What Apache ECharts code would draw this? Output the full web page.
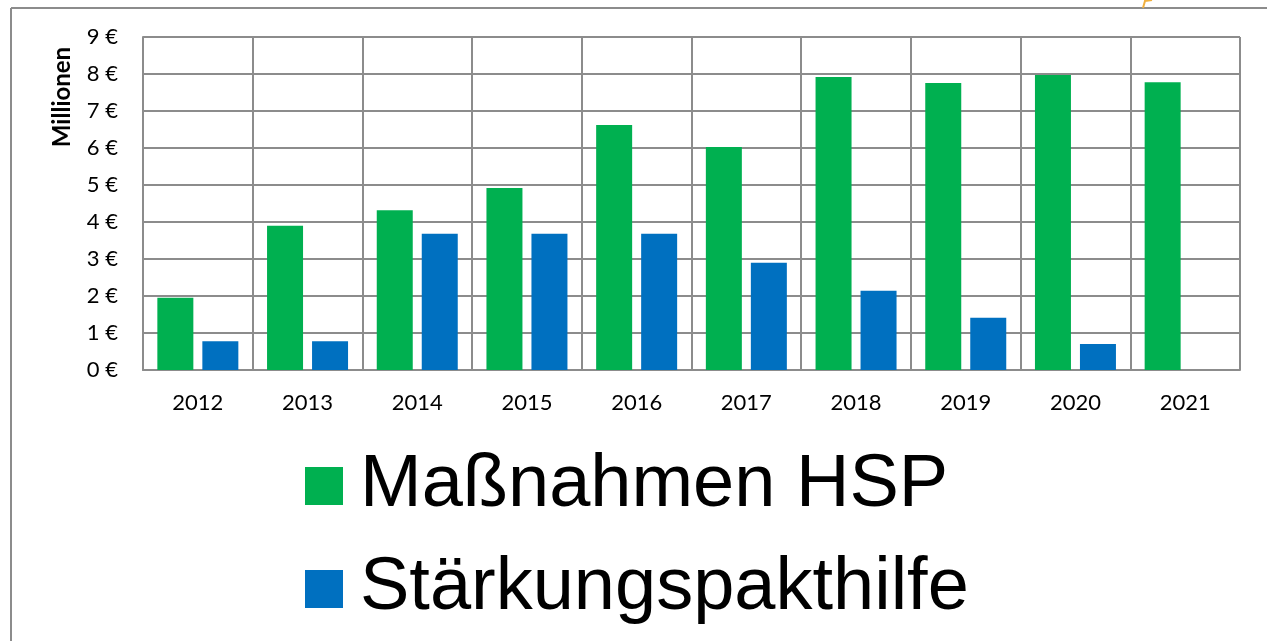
<!DOCTYPE html>
<html>
<head>
<meta charset="utf-8">
<script src="https://cdn.jsdelivr.net/npm/echarts@6/dist/echarts.min.js"></script>
<style>
  html, body { margin: 0; padding: 0; background: #fff; }
  #chart { width: 1267px; height: 641px; }
</style>
</head>
<body>
<div id="chart"></div>
<script>
// Daten (Millionen €)
const years = ['2012', '2013', '2014', '2015', '2016', '2017', '2018', '2019', '2020', '2021'];
const hsp = [1.95, 3.9, 4.32, 4.92, 6.62, 6.03, 7.92, 7.76, 7.97, 7.78];
const staerkung = [0.78, 0.78, 3.68, 3.68, 3.68, 2.9, 2.14, 1.41, 0.7, null];

const chart = echarts.init(document.getElementById('chart'));
const gridColor = '#8c8c8c';

const option = {
  animation: false,
  textStyle: { fontFamily: 'Lato, "Open Sans", sans-serif' },
  graphic: [
    // Rahmen oben/links
    { type: 'line', shape: { x1: 11, y1: 8, x2: 1267, y2: 8 }, style: { stroke: '#8c8c8c', lineWidth: 2 } },
    { type: 'line', shape: { x1: 11, y1: 8, x2: 11, y2: 641 }, style: { stroke: '#8c8c8c', lineWidth: 2 } },
    { type: 'polyline', shape: { points: [[1143, 8], [1145, 1], [1152, 0]] }, style: { stroke: '#f0b040', lineWidth: 2, fill: null } },
    {
      type: 'text', x: 62, y: 97, rotation: Math.PI / 2,
      style: { text: 'Millionen', fontSize: 24, fontWeight: 'bold', fill: '#000',
        fontFamily: 'Lato, "Open Sans", sans-serif', align: 'center', verticalAlign: 'middle' }
    }
  ],
  legend: {
    orient: 'vertical',
    left: 300,
    top: 444,
    itemWidth: 38,
    itemHeight: 38,
    itemGap: 29,
    icon: 'rect',
    textStyle: { fontSize: 74, fontFamily: '"Liberation Sans", Arial, sans-serif', color: '#000', padding: [0, 0, 0, 12] },
    data: ['Maßnahmen HSP', 'Stärkungspakthilfe']
  },
  grid: { left: 143, right: 27, top: 37, bottom: 271, containLabel: false },
  xAxis: {
    type: 'category',
    data: years,
    axisTick: { show: false },
    axisLine: { lineStyle: { color: gridColor, width: 2 } },
    axisLabel: { fontSize: 22, color: '#000', margin: 22 },
    splitLine: { show: true, lineStyle: { color: gridColor, width: 2 } }
  },
  yAxis: {
    type: 'value',
    min: 0, max: 9, interval: 1,
    axisLine: { show: true, lineStyle: { color: gridColor, width: 2 } },
    axisTick: { show: false },
    axisLabel: { fontSize: 22, color: '#000', margin: 25, formatter: v => v + ' €' },
    splitLine: { lineStyle: { color: gridColor, width: 2 } }
  },
  series: [
    {
      name: 'Maßnahmen HSP', type: 'bar', data: hsp,
      barWidth: 36, barGap: '25%',
      itemStyle: { color: '#00b050' }
    },
    {
      name: 'Stärkungspakthilfe', type: 'bar', data: staerkung,
      barWidth: 36,
      itemStyle: { color: '#0070c0' }
    }
  ]
};

chart.setOption(option);
</script>
</body>
</html>
